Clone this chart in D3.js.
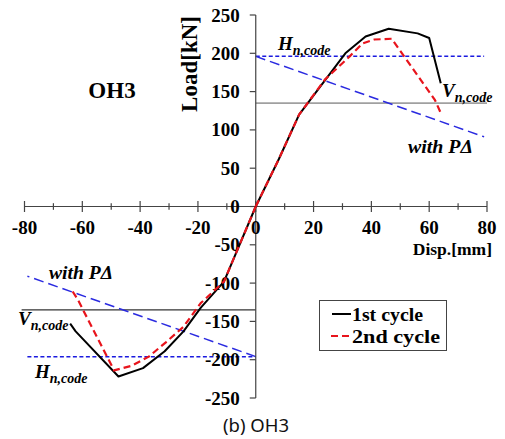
<!DOCTYPE html>
<html>
<head>
<meta charset="utf-8">
<script src="https://cdn.jsdelivr.net/npm/d3@7"></script>
<style>
  html, body { margin: 0; padding: 0; background: #fff; }
  svg { display: block; }
  .serif { font-family: "Liberation Serif", "DejaVu Serif", serif; font-weight: bold; }
</style>
</head>
<body>
<svg id="chart" width="505" height="439"></svg>
<script>
// Hysteresis envelope of specimen OH3: displacement [mm] vs load [kN]
const xTicks = [-80, -60, -40, -20, 0, 20, 40, 60, 80];
const xMinorTicks = [-70, -50, -30, -10, 10, 30, 50, 70];
const yTicks = [-250, -200, -150, -100, -50, 0, 50, 100, 150, 200, 250];

// 1st cycle, positive and negative branches
const disp1Pos = [0, 8, 15, 24, 31, 38, 46, 56, 60, 64];
const load1Pos = [0, 62, 120, 165, 200, 222, 232, 226, 220, 161];
const disp1Neg = [0, -11, -19, -25, -31.5, -39, -47.5, -62.3, -64.2];
const load1Neg = [0, -98, -132, -163, -189, -211, -222, -163, -153];

// 2nd cycle, positive and negative branches
const disp2Pos = [0, 8, 15, 24, 32.5, 37, 41, 47, 62, 64];
const load2Pos = [0, 62, 120, 166, 196, 213, 218, 219, 139, 122];
const disp2Neg = [0, -11, -19, -25, -31, -37, -43, -49, -61.5, -64];
const load2Neg = [0, -98, -126, -157, -177, -196, -208, -214, -122, -107];

// Code strengths
const hCode = 196;      // H_n,code
const vCode = 135;      // V_n,code
const pDeltaDisp = [0, 79];
const pDeltaLoad = [196, 91]; // H_n,code reduced by P-Delta

const svg = d3.select("#chart");
const x = d3.scaleLinear().domain([-80, 80]).range([24.5, 487]);
const y = d3.scaleLinear().domain([-250, 250]).range([398, 15]);

const line = d3.line().x(d => x(d[0])).y(d => y(d[1]));
const zipPts = (a, b) => a.map((v, i) => [v, b[i]]);

// reference lines
const g = svg.append("g");
g.append("line").attr("x1", x(0)).attr("x2", x(80)).attr("y1", y(vCode)).attr("y2", y(vCode))
  .attr("stroke", "#a0a0a0").attr("stroke-width", 1.6);
g.append("line").attr("x1", x(-81)).attr("x2", x(0)).attr("y1", y(-vCode)).attr("y2", y(-vCode))
  .attr("stroke", "#333").attr("stroke-width", 1.1);
g.append("line").attr("x1", x(0)).attr("x2", x(79)).attr("y1", y(hCode)).attr("y2", y(hCode))
  .attr("stroke", "#1a1adf").attr("stroke-width", 1.5).attr("stroke-dasharray", "4,2.5");
g.append("line").attr("x1", x(-79)).attr("x2", x(0)).attr("y1", y(-hCode)).attr("y2", y(-hCode))
  .attr("stroke", "#1a1adf").attr("stroke-width", 1.5).attr("stroke-dasharray", "4,2.5");
g.append("path").attr("d", line(zipPts(pDeltaDisp, pDeltaLoad)))
  .attr("fill", "none").attr("stroke", "#2a2ae0").attr("stroke-width", 1.5).attr("stroke-dasharray", "10,5");
g.append("path").attr("d", line(zipPts(pDeltaDisp.map(v => -v), pDeltaLoad.map(v => -v))))
  .attr("fill", "none").attr("stroke", "#2a2ae0").attr("stroke-width", 1.5).attr("stroke-dasharray", "10,5");

// axes
const axisColor = "#444";
const ax = svg.append("g").attr("stroke", axisColor).attr("stroke-width", 1.2);
ax.append("line").attr("x1", x(-80)).attr("x2", x(80)).attr("y1", y(0)).attr("y2", y(0));
ax.append("line").attr("x1", x(0)).attr("x2", x(0)).attr("y1", y(250)).attr("y2", y(-250));
ax.selectAll(".xt").data(xTicks).join("line")
  .attr("x1", d => x(d)).attr("x2", d => x(d)).attr("y1", y(0) - 5.5).attr("y2", y(0) + 5.5);
ax.selectAll(".xm").data(xMinorTicks).join("line")
  .attr("x1", d => x(d)).attr("x2", d => x(d)).attr("y1", y(0) - 3.3).attr("y2", y(0) + 3.3);
ax.selectAll(".yt").data(yTicks).join("line")
  .attr("x1", x(0) - 6).attr("x2", x(0)).attr("y1", d => y(d)).attr("y2", d => y(d));

svg.append("g").selectAll("text").data(xTicks).join("text")
  .attr("class", "serif").attr("font-size", 19)
  .attr("x", d => x(d)).attr("y", y(0) + 27).attr("text-anchor", "middle")
  .text(d => d);
svg.append("g").selectAll("text").data(yTicks).join("text")
  .attr("class", "serif").attr("font-size", 19)
  .attr("x", x(0) - 16).attr("y", d => y(d) + 6.5).attr("text-anchor", "end")
  .text(d => d);

// curves
svg.append("path").attr("d", line(zipPts(disp1Pos, load1Pos)))
  .attr("fill", "none").attr("stroke", "#000").attr("stroke-width", 2).attr("stroke-linejoin", "round");
svg.append("path").attr("d", line(zipPts(disp1Neg, load1Neg)))
  .attr("fill", "none").attr("stroke", "#000").attr("stroke-width", 2).attr("stroke-linejoin", "round");
svg.append("path").attr("d", line(zipPts(disp2Pos, load2Pos)))
  .attr("fill", "none").attr("stroke", "#e8141c").attr("stroke-width", 2.2).attr("stroke-dasharray", "7,4");
svg.append("path").attr("d", line(zipPts(disp2Neg, load2Neg)))
  .attr("fill", "none").attr("stroke", "#e8141c").attr("stroke-width", 2.2).attr("stroke-dasharray", "7,4");

// titles
svg.append("text").attr("class", "serif").attr("font-size", 23)
  .attr("x", 112).attr("y", 98).attr("text-anchor", "middle").text("OH3");
svg.append("text").attr("class", "serif").attr("font-size", 23)
  .attr("transform", "translate(197,64) rotate(-90)").attr("text-anchor", "middle").text("Load[kN]");
svg.append("text").attr("class", "serif").attr("font-size", 17.5)
  .attr("x", 492).attr("y", 255).attr("text-anchor", "end").text("Disp.[mm]");

// code-strength annotations
function codeLabel(main, px, py) {
  const t = svg.append("text").attr("class", "serif").attr("font-style", "italic")
    .attr("x", px).attr("y", py);
  t.append("tspan").attr("font-size", 19).text(main);
  t.append("tspan").attr("font-size", 14).attr("dy", 5).text("n,code");
}
codeLabel("H", 278, 50);
codeLabel("V", 442, 97);
codeLabel("V", 18, 325);
codeLabel("H", 35, 378);
svg.append("text").attr("class", "serif").attr("font-style", "italic").attr("font-size", 18)
  .attr("x", 408).attr("y", 153).attr("textLength", 65).attr("lengthAdjust", "spacingAndGlyphs")
  .text("with PΔ");
svg.append("text").attr("class", "serif").attr("font-style", "italic").attr("font-size", 18)
  .attr("x", 49).attr("y", 279).attr("textLength", 64).attr("lengthAdjust", "spacingAndGlyphs")
  .text("with PΔ");

// legend
const lg = svg.append("g");
lg.append("rect").attr("x", 319.5).attr("y", 300.5).attr("width", 127).attr("height", 50)
  .attr("fill", "#fff").attr("stroke", "#444").attr("stroke-width", 1);
lg.append("line").attr("x1", 332).attr("x2", 351).attr("y1", 314).attr("y2", 314)
  .attr("stroke", "#000").attr("stroke-width", 2);
lg.append("line").attr("x1", 331).attr("x2", 351).attr("y1", 336).attr("y2", 336)
  .attr("stroke", "#e8141c").attr("stroke-width", 2).attr("stroke-dasharray", "7,4");
lg.append("text").attr("class", "serif").attr("font-size", 19)
  .attr("x", 352).attr("y", 320.5).attr("textLength", 71).attr("lengthAdjust", "spacingAndGlyphs")
  .text("1st cycle");
lg.append("text").attr("class", "serif").attr("font-size", 19)
  .attr("x", 352).attr("y", 342.5).attr("textLength", 88).attr("lengthAdjust", "spacingAndGlyphs")
  .text("2nd cycle");

// caption
svg.append("text").attr("font-family", "'Noto Sans', 'Liberation Sans', sans-serif")
  .attr("font-size", 18.5).attr("x", 256).attr("y", 432).attr("text-anchor", "middle")
  .attr("fill", "#111").text("(b) OH3");
</script>
</body>
</html>
